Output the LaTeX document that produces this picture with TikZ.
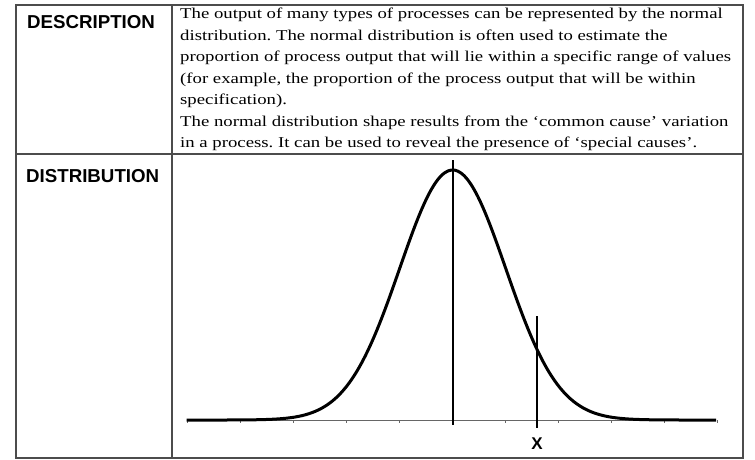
\documentclass[tikz,border=0pt]{standalone}
\usepackage{fontspec}
\setmainfont{Liberation Serif}[FakeStretch=1.25]
\newfontfamily\hdrfont{Liberation Sans}
\frenchspacing
\tikzset{
  grid/.style={draw=black!70, line width=1.2pt},
  hdr/.style={anchor=base west, inner sep=0pt, font={\hdrfont\bfseries\fontsize{18.7}{22}\selectfont}},
  desc/.style={anchor=base west, inner sep=0pt, align=left, font={\fontsize{15}{21.5}\selectfont}},
  curve/.style={line width=3pt, line join=round},
  axisline/.style={draw=black!60, line width=0.8pt},
  marker/.style={line width=1.8pt},
}
\begin{document}
\begin{tikzpicture}[x=1pt,y=-1pt]
\useasboundingbox (0,0) rectangle (755,459);
% table
\draw[grid] (16,5) rectangle (743,458);
\draw[grid] (172,5) -- (172,458);
\draw[grid] (16,154) -- (743,154);
% headers
\node[hdr] (h1) at (27,28) {DESCRIPTION};
\node[hdr] (h2) at (26,182) {DISTRIBUTION};
% description
\node[desc] (d) at (180,147.5) {The output of many types of processes can be represented by the normal\\
distribution. The normal distribution is often used to estimate the\\
proportion of process output that will lie within a specific range of values\\
(for example, the proportion of the process output that will be within\\
specification).\\
The normal distribution shape results from the ‘common cause’ variation\\
in a process. It can be used to reveal the presence of ‘special causes’.};
% axis
\coordinate (aL) at (186.7,420);
\coordinate (aR) at (716,420);
\draw[axisline] (aL) -- (aR);
\foreach \t in {-5,...,5} {\draw[axisline] ({452.7+53*\t},420) -- ({452.7+53*\t},423);}
% curve
\draw[curve] plot[domain=-5.02:4.97, samples=161, smooth] ({452.7+53*\x},{420-250*exp(-\x*\x/2)});
% mean line
\coordinate (mT) at (452.7,160);
\coordinate (mB) at (452.7,425);
\draw[marker] (mT) -- (mB);
% X line
\coordinate (xT) at (536.7,316);
\coordinate (xB) at (536.7,428);
\draw[marker] (xT) -- (xB);
\node[hdr, anchor=base, font={\hdrfont\bfseries\fontsize{17}{20}\selectfont}] (xl) at (537,449) {X};
\end{tikzpicture}
\end{document}
